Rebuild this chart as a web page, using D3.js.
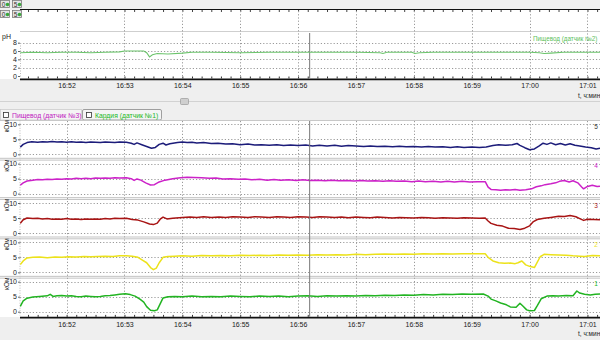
<!DOCTYPE html>
<html><head><meta charset="utf-8">
<script src="https://cdn.jsdelivr.net/npm/d3@7"></script>
<style>
body{margin:0;background:#efefef}
svg{display:block;font-family:"Liberation Sans",Arial,sans-serif}
</style>
</head><body>
<svg id="chart" width="600" height="340"></svg>
<script>
// ---- data ----------------------------------------------------------------
const minuteTicks = ["16:52","16:53","16:54","16:55","16:56","16:57","16:58","16:59","17:00","17:01"];
const timeSpan = ["16:51:12","17:01:13"];
const cursorTime = "16:56:12";
const phTicks = [0,2,4,6,8];
const kohmTicks = [0,5,10];
const channelNames = ["5","4","3","2","1"];
const channelColors = ["#1c1c7a","#cc22c8","#a81414","#ece21a","#22b422"];
const tabLabels = ["Пищевод (датчик №3)","Кардия (датчик №1)"];
const phLegend = "Пищевод (датчик №2)";

const phSeries = [
 ["16:51:12",5.6],["16:51:25",5.7],["16:51:40",5.6],["16:51:55",5.7],["16:52:10",5.7],["16:52:25",5.6],
 ["16:52:40",5.7],["16:52:55",5.8],["16:53:00",6.0],["16:53:10",6.0],["16:53:20",6.0],["16:53:23",5.6],
 ["16:53:26",4.6],["16:53:29",5.1],["16:53:34",5.4],["16:53:45",5.3],["16:54:00",5.5],["16:54:10",5.7],
 ["16:54:30",5.7],["16:55:00",5.6],["16:55:30",5.7],["16:56:00",5.7],["16:56:30",5.7],["16:57:00",5.7],
 ["16:57:25",5.6],["16:57:28",5.4],["16:57:32",5.7],["16:57:58",5.7],["16:58:01",5.4],["16:58:06",5.6],
 ["16:58:20",5.7],["16:59:00",5.7],["16:59:30",5.7],["17:00:00",5.7],["17:00:10",5.6],["17:00:15",5.4],
 ["17:00:22",5.5],["17:00:35",5.7],["17:01:00",5.7],["17:01:13",5.7]
];

const sensor5 = [
 ["16:51:12",2.4],["16:51:15",3.3],["16:51:19",3.9],["16:51:24",4.2],["16:51:30",4.0],["16:51:35",4.2],
 ["16:51:40",4.1],["16:51:45",4.3],["16:51:50",4.1],["16:51:55",4.2],["16:52:00",4.0],["16:52:05",4.2],
 ["16:52:10",4.0],["16:52:15",4.1],["16:52:20",3.9],["16:52:25",4.1],["16:52:30",4.0],["16:52:35",3.9],
 ["16:52:40",4.1],["16:52:45",4.0],["16:52:50",3.9],["16:52:55",4.1],["16:53:02",4.0],["16:53:07",3.7],
 ["16:53:10",3.3],["16:53:13",3.8],["16:53:18",3.2],["16:53:23",2.6],["16:53:28",2.0],["16:53:32",2.3],
 ["16:53:36",3.3],["16:53:40",3.7],["16:53:43",3.1],["16:53:47",3.5],["16:53:55",3.9],["16:54:00",4.1],
 ["16:54:05",3.9],["16:54:10",4.0],["16:54:15",3.8],["16:54:22",3.9],["16:54:30",3.6],["16:54:37",3.7],
 ["16:54:45",3.4],["16:54:52",3.5],["16:55:00",3.2],["16:55:08",3.4],["16:55:15",3.1],["16:55:22",3.2],
 ["16:55:30",3.0],["16:55:38",3.2],["16:55:45",2.9],["16:55:52",3.1],["16:56:00",2.9],["16:56:08",3.1],
 ["16:56:15",2.8],["16:56:22",3.0],["16:56:30",2.8],["16:56:38",3.0],["16:56:45",2.7],["16:56:52",2.9],
 ["16:57:00",2.8],["16:57:08",2.6],["16:57:15",2.8],["16:57:22",2.6],["16:57:30",2.7],["16:57:38",2.5],
 ["16:57:45",2.7],["16:57:52",2.5],["16:58:00",2.6],["16:58:08",2.4],["16:58:15",2.6],["16:58:22",2.4],
 ["16:58:30",2.5],["16:58:38",2.3],["16:58:45",2.5],["16:58:52",2.3],["16:59:00",2.4],["16:59:08",2.3],
 ["16:59:15",2.4],["16:59:22",2.9],["16:59:28",3.2],["16:59:35",3.0],["16:59:42",3.2],["16:59:47",3.6],
 ["16:59:50",3.0],["16:59:55",2.2],["17:00:00",1.5],["17:00:05",1.8],["17:00:10",2.8],["17:00:14",3.7],
 ["17:00:18",3.3],["17:00:22",3.8],["17:00:27",3.2],["17:00:32",3.6],["17:00:37",3.1],["17:00:42",3.5],
 ["17:00:47",3.0],["17:00:52",2.8],["17:00:58",2.4],["17:01:04",2.2],["17:01:09",1.8],["17:01:13",2.0]
];

const sensor4 = [
 ["16:51:12",2.8],["16:51:15",3.6],["16:51:19",4.2],["16:51:25",4.5],["16:51:30",4.7],["16:51:35",4.6],
 ["16:51:40",4.8],["16:51:45",4.7],["16:51:50",4.9],["16:51:55",4.8],["16:52:00",5.0],["16:52:05",4.9],
 ["16:52:10",5.1],["16:52:15",5.0],["16:52:20",5.1],["16:52:25",5.0],["16:52:30",5.2],["16:52:35",5.1],
 ["16:52:40",5.2],["16:52:45",5.1],["16:52:50",5.3],["16:52:55",5.2],["16:53:02",5.3],["16:53:07",5.0],
 ["16:53:10",4.4],["16:53:13",4.9],["16:53:17",4.5],["16:53:22",3.6],["16:53:27",2.9],["16:53:31",3.0],
 ["16:53:36",3.9],["16:53:42",4.5],["16:53:50",5.0],["16:53:58",5.3],["16:54:05",5.5],["16:54:12",5.4],
 ["16:54:20",5.3],["16:54:28",5.1],["16:54:35",5.2],["16:54:42",4.9],["16:54:50",5.0],["16:54:58",4.8],
 ["16:55:05",4.9],["16:55:12",4.6],["16:55:20",4.8],["16:55:28",4.5],["16:55:35",4.7],["16:55:42",4.5],
 ["16:55:50",4.6],["16:55:58",4.4],["16:56:05",4.6],["16:56:12",4.4],["16:56:20",4.5],["16:56:28",4.3],
 ["16:56:35",4.5],["16:56:42",4.3],["16:56:50",4.4],["16:56:58",4.2],["16:57:05",4.4],["16:57:12",4.2],
 ["16:57:20",4.3],["16:57:28",4.1],["16:57:35",4.3],["16:57:42",4.1],["16:57:50",4.2],["16:57:58",4.0],
 ["16:58:05",4.2],["16:58:12",4.0],["16:58:20",4.1],["16:58:28",3.9],["16:58:35",4.1],["16:58:42",3.9],
 ["16:58:50",4.1],["16:58:58",3.9],["16:59:06",4.0],["16:59:14",4.0],["16:59:17",2.2],["16:59:20",1.4],
 ["16:59:25",1.3],["16:59:30",1.1],["16:59:35",1.3],["16:59:40",1.2],["16:59:45",1.4],["16:59:50",1.1],
 ["16:59:56",1.3],["17:00:02",1.6],["17:00:07",2.3],["17:00:12",2.6],["17:00:16",3.0],["17:00:22",3.3],
 ["17:00:27",3.6],["17:00:31",4.1],["17:00:36",4.4],["17:00:41",3.9],["17:00:45",4.3],["17:00:50",3.6],
 ["17:00:54",2.2],["17:00:56",1.6],["17:01:00",2.4],["17:01:05",2.8],["17:01:10",2.4],["17:01:13",2.5]
];

const sensor3 = [
 ["16:51:12",3.2],["16:51:15",4.4],["16:51:19",5.0],["16:51:25",4.8],["16:51:30",4.9],["16:51:35",4.7],
 ["16:51:40",4.8],["16:51:45",4.6],["16:51:50",4.7],["16:51:55",4.6],["16:52:00",4.8],["16:52:05",4.6],
 ["16:52:10",4.7],["16:52:15",4.5],["16:52:20",4.7],["16:52:25",4.6],["16:52:30",4.7],["16:52:35",4.6],
 ["16:52:40",4.8],["16:52:45",4.7],["16:52:50",4.9],["16:52:55",4.8],["16:53:02",4.9],["16:53:08",4.5],
 ["16:53:14",4.3],["16:53:20",3.7],["16:53:26",3.0],["16:53:30",2.8],["16:53:34",3.3],["16:53:37",4.6],
 ["16:53:40",5.3],["16:53:44",4.7],["16:53:50",4.9],["16:54:00",5.2],["16:54:08",5.3],["16:54:15",5.2],
 ["16:54:22",5.4],["16:54:30",5.2],["16:54:38",5.3],["16:54:45",5.2],["16:54:52",5.4],["16:55:00",5.3],
 ["16:55:08",5.2],["16:55:15",5.4],["16:55:22",5.3],["16:55:30",5.2],["16:55:38",5.4],["16:55:45",5.3],
 ["16:55:52",5.2],["16:56:00",5.4],["16:56:08",5.3],["16:56:15",5.2],["16:56:22",5.4],["16:56:30",5.3],
 ["16:56:38",5.2],["16:56:45",5.3],["16:56:52",5.1],["16:57:00",5.3],["16:57:08",5.2],["16:57:15",5.1],
 ["16:57:22",5.3],["16:57:30",5.2],["16:57:38",5.0],["16:57:45",5.2],["16:57:52",5.1],["16:58:00",5.0],
 ["16:58:08",5.2],["16:58:15",5.1],["16:58:22",4.9],["16:58:30",5.1],["16:58:38",5.0],["16:58:45",4.9],
 ["16:58:52",5.1],["16:59:00",5.0],["16:59:08",4.9],["16:59:14",5.0],["16:59:17",4.0],["16:59:20",3.2],
 ["16:59:26",2.6],["16:59:32",2.3],["16:59:38",1.6],["16:59:44",1.5],["16:59:50",1.2],["16:59:55",1.6],
 ["17:00:00",2.4],["17:00:04",3.8],["17:00:08",4.5],["17:00:15",4.9],["17:00:22",5.2],["17:00:30",5.6],
 ["17:00:36",5.5],["17:00:42",5.8],["17:00:48",5.4],["17:00:52",4.8],["17:00:56",4.2],["17:01:00",4.6],
 ["17:01:06",4.5],["17:01:13",4.4]
];

const sensor2 = [
 ["16:51:12",2.6],["16:51:15",3.8],["16:51:19",4.8],["16:51:25",5.0],["16:51:32",5.1],["16:51:40",4.9],
 ["16:51:48",5.1],["16:51:55",5.0],["16:52:02",5.2],["16:52:10",5.1],["16:52:18",5.3],["16:52:25",5.2],
 ["16:52:32",5.3],["16:52:40",5.4],["16:52:48",5.3],["16:52:55",5.5],["16:53:02",5.5],["16:53:08",5.4],
 ["16:53:14",5.0],["16:53:19",4.0],["16:53:23",3.2],["16:53:27",1.6],["16:53:30",0.9],["16:53:33",1.4],
 ["16:53:36",3.2],["16:53:40",5.0],["16:53:45",5.3],["16:53:52",5.4],["16:54:00",5.5],["16:54:10",5.4],
 ["16:54:20",5.6],["16:54:30",5.5],["16:54:40",5.6],["16:54:50",5.5],["16:55:00",5.7],["16:55:10",5.6],
 ["16:55:20",5.7],["16:55:30",5.6],["16:55:40",5.8],["16:55:50",5.7],["16:56:00",5.8],["16:56:10",5.7],
 ["16:56:20",5.9],["16:56:30",5.8],["16:56:40",5.9],["16:56:50",5.8],["16:57:00",6.0],["16:57:10",5.9],
 ["16:57:20",6.0],["16:57:30",6.1],["16:57:40",6.0],["16:57:50",6.1],["16:58:00",6.0],["16:58:10",6.2],
 ["16:58:20",6.1],["16:58:30",6.2],["16:58:40",6.1],["16:58:50",6.2],["16:59:00",6.2],["16:59:14",6.2],
 ["16:59:17",5.0],["16:59:22",3.8],["16:59:28",3.2],["16:59:34",3.0],["16:59:40",3.1],["16:59:45",2.9],
 ["16:59:48",3.2],["16:59:52",3.8],["16:59:56",2.5],["17:00:00",2.0],["17:00:05",1.6],["17:00:08",3.4],
 ["17:00:11",5.2],["17:00:15",6.0],["17:00:22",5.9],["17:00:30",5.8],["17:00:38",5.7],["17:00:45",5.5],
 ["17:00:52",5.4],["17:00:57",5.3],["17:01:05",5.6],["17:01:13",5.5]
];

const sensor1 = [
 ["16:51:12",1.8],["16:51:15",3.6],["16:51:19",4.5],["16:51:25",4.9],["16:51:32",5.1],["16:51:40",5.3],
 ["16:51:43",5.8],["16:51:46",5.1],["16:51:50",5.3],["16:51:55",5.4],["16:52:00",5.2],["16:52:05",5.3],
 ["16:52:10",5.1],["16:52:15",5.0],["16:52:20",5.2],["16:52:25",5.1],["16:52:30",5.0],["16:52:35",5.1],
 ["16:52:40",5.3],["16:52:45",5.4],["16:52:50",5.6],["16:52:55",5.8],["16:53:01",6.0],["16:53:06",5.7],
 ["16:53:11",5.2],["16:53:16",4.2],["16:53:20",3.2],["16:53:23",1.7],["16:53:27",0.5],["16:53:31",0.3],
 ["16:53:34",0.6],["16:53:37",2.6],["16:53:40",4.6],["16:53:45",5.0],["16:53:52",5.1],["16:54:00",5.0],
 ["16:54:10",5.2],["16:54:20",5.0],["16:54:30",5.1],["16:54:40",5.0],["16:54:50",5.2],["16:55:00",5.1],
 ["16:55:10",5.0],["16:55:20",5.2],["16:55:30",5.1],["16:55:40",5.2],["16:55:50",5.0],["16:56:00",5.2],
 ["16:56:10",5.3],["16:56:20",5.1],["16:56:30",5.3],["16:56:40",5.2],["16:56:50",5.3],["16:57:00",5.2],
 ["16:57:10",5.4],["16:57:20",5.3],["16:57:30",5.5],["16:57:40",5.4],["16:57:50",5.6],["16:58:00",5.5],
 ["16:58:10",5.7],["16:58:20",5.6],["16:58:30",5.8],["16:58:40",5.7],["16:58:50",5.9],["16:59:00",5.8],
 ["16:59:12",5.9],["16:59:17",5.2],["16:59:20",4.2],["16:59:25",3.6],["16:59:30",2.9],["16:59:36",2.3],
 ["16:59:40",1.6],["16:59:46",1.5],["16:59:50",2.8],["16:59:53",1.9],["16:59:57",0.6],["17:00:00",0.3],
 ["17:00:05",0.4],["17:00:08",2.0],["17:00:12",4.3],["17:00:18",5.2],["17:00:24",5.3],["17:00:30",5.2],
 ["17:00:38",5.4],["17:00:45",5.3],["17:00:49",6.9],["17:00:52",6.2],["17:00:57",5.8],["17:01:03",5.6],
 ["17:01:08",5.8],["17:01:13",5.9]
];

const channels = [sensor5, sensor4, sensor3, sensor2, sensor1];

// ---- layout --------------------------------------------------------------
const svg = d3.select("#chart");
const parse = d3.timeParse("%H:%M:%S");
const parseHM = d3.timeParse("%H:%M");
const fmt = d3.timeFormat("%H:%M");
const left = 20, right = 600;

const x = d3.scaleTime().domain(timeSpan.map(parse)).range([20.3, right]);
const minuteDates = minuteTicks.map(parseHM);
const tenSec = x.ticks(d3.timeSecond.every(10));

const grid = "#9a9a9a";

// white backgrounds of the two chart areas
svg.append("rect").attr("x",0).attr("y",10).attr("width",600).attr("height",69).attr("fill","#fff");
svg.append("rect").attr("x",0).attr("y",120).attr("width",600).attr("height",197).attr("fill","#fff");

// upper strip: edge of the chart above
svg.append("line").attr("x1",left).attr("x2",right).attr("y1",9.5).attr("y2",9.5).attr("stroke","#111").attr("stroke-width",1.2);
svg.append("g").attr("transform","translate(0,10)")
  .call(d3.axisBottom(x).ticks(d3.timeSecond.every(10)).tickSize(2).tickFormat(""))
  .call(g => { g.select(".domain").remove(); g.selectAll("line").attr("stroke","#444"); });

// toolbar buttons
function button(g, bx, by, label){
  g.append("rect").attr("x",bx+0.5).attr("y",by+0.5).attr("width",9).attr("height",7).attr("fill","#e4e4e4").attr("stroke","#7a7a7a").attr("stroke-width",0.8);
  g.append("text").attr("x",bx+3.5).attr("y",by+6.5).attr("font-size",6.5).attr("text-anchor","middle").attr("fill","#333").text(label);
  g.append("circle").attr("cx",bx+7.5).attr("cy",by+4.5).attr("r",1.8).attr("fill","#3aa63a");
}
const tb = svg.append("g");
[[0,0,"0"],[12,0,"5"],[0,10,"0"],[12,10,"5"]].forEach(d => button(tb, d[0], d[1], d[2]));

// ---- pH chart ------------------------------------------------------------
const yPh = d3.scaleLinear().domain([0,8]).range([76,42.7]);
const ph = svg.append("g");

ph.append("line").attr("x1",left).attr("x2",right).attr("y1",31.5).attr("y2",31.5).attr("stroke","#cfcfcf");
ph.selectAll(".hg").data(phTicks.filter(d => d > 0)).join("line")
  .attr("x1",left).attr("x2",right).attr("y1",d => Math.round(yPh(d))+0.5).attr("y2",d => Math.round(yPh(d))+0.5)
  .attr("stroke",grid).attr("stroke-dasharray","1.2,2");
ph.selectAll(".vg").data(minuteDates).join("line")
  .attr("x1",d => Math.round(x(d))+0.5).attr("x2",d => Math.round(x(d))+0.5).attr("y1",11).attr("y2",78)
  .attr("stroke",grid).attr("stroke-dasharray","1.2,2");

ph.append("g").attr("transform",`translate(${left},0)`)
  .call(d3.axisLeft(yPh).tickValues(phTicks).tickSize(2).tickPadding(1).tickFormat(d3.format("d")))
  .call(g => { g.select(".domain").attr("stroke","#bbb").attr("stroke-dasharray","1,1.5");
               g.selectAll("line").attr("stroke","#666");
               g.selectAll("text").attr("font-size",7).attr("fill","#222"); });
ph.append("text").attr("x",2).attr("y",39).attr("font-size",7).attr("fill","#222").text("pH");

ph.append("line").attr("x1",x(parse(cursorTime))).attr("x2",x(parse(cursorTime))).attr("y1",33).attr("y2",78)
  .attr("stroke","#777").attr("stroke-width",1);

ph.append("path").datum(phSeries)
  .attr("d", d3.line().x(d => x(parse(d[0]))).y(d => yPh(d[1])))
  .attr("fill","none").attr("stroke","#6cc46c").attr("stroke-width",1.1);

ph.append("text").attr("x",533).attr("y",41).attr("font-size",6.3).attr("fill","#5cbf5c").text(phLegend);

// time axis under the pH chart
function timeAxis(y0, labelY){
  const g = svg.append("g");
  g.append("line").attr("x1",left).attr("x2",right).attr("y1",y0).attr("y2",y0).attr("stroke","#111").attr("stroke-width",1.8);
  g.append("g").attr("transform",`translate(0,${y0-0.8})`)
    .call(d3.axisTop(x).ticks(d3.timeSecond.every(10)).tickSize(2).tickFormat(""))
    .call(a => { a.select(".domain").remove(); a.selectAll("line").attr("stroke","#333"); });
  g.append("g").attr("transform",`translate(0,${y0})`)
    .call(d3.axisBottom(x).tickValues(minuteDates).tickSize(0).tickPadding(4).tickFormat(fmt))
    .call(a => { a.select(".domain").remove(); a.selectAll("text").attr("font-size",7).attr("fill","#222"); });
  g.append("text").attr("x",578).attr("y",labelY).attr("font-size",6.5).attr("fill","#222").text("t, ч:мин");
}
timeAxis(79.3, 98);

// splitter between the two charts
svg.append("line").attr("x1",0).attr("x2",600).attr("y1",101.5).attr("y2",101.5).attr("stroke","#d2d2d2");
svg.append("rect").attr("x",180.5).attr("y",98.5).attr("width",8).attr("height",6).attr("rx",1)
  .attr("fill","#cfcfcf").attr("stroke","#9a9a9a").attr("stroke-width",0.7);

// tabs
const tabs = svg.append("g");
tabs.append("rect").attr("x",0.5).attr("y",109.5).attr("width",81).attr("height",10.5).attr("fill","#f4f4f4").attr("stroke","#c8c8c8").attr("stroke-width",0.7);
tabs.append("rect").attr("x",82.5).attr("y",109.5).attr("width",79).attr("height",10.5).attr("rx",1.5).attr("fill","#f4f4f4").attr("stroke","#8a8a8a").attr("stroke-width",0.8);
[[3,tabLabels[0],"#c020c0"],[86,tabLabels[1],"#22b822"]].forEach(d => {
  tabs.append("rect").attr("x",d[0]+0.5).attr("y",112.5).attr("width",5).attr("height",5).attr("fill","#fff").attr("stroke","#333").attr("stroke-width",0.8);
  tabs.append("text").attr("x",d[0]+9).attr("y",118).attr("font-size",6.8).attr("fill",d[2]).text(d[1]);
});
svg.append("line").attr("x1",0).attr("x2",600).attr("y1",120.5).attr("y2",120.5).attr("stroke","#c8c8c8");

// ---- resistance charts ---------------------------------------------------
const pitch = 39.35, zero0 = 154.3, pxPerUnit = 3.0;
const cursorX = x(parse(cursorTime));

svg.append("g").selectAll("line").data(minuteDates).join("line")
  .attr("x1",d => Math.round(x(d))+0.5).attr("x2",d => Math.round(x(d))+0.5).attr("y1",121).attr("y2",316.5)
  .attr("stroke",grid).attr("stroke-dasharray","1.2,2");

channels.forEach((series, i) => {
  const z = zero0 + i*pitch;
  const y = d3.scaleLinear().domain([0,10]).range([z, z - 10*pxPerUnit]);
  const g = svg.append("g");
  const top = z - 34, bottom = z + 3.9;

  g.selectAll(".hg").data(kohmTicks).join("line")
    .attr("x1",left).attr("x2",right).attr("y1",d => Math.round(y(d))+0.5).attr("y2",d => Math.round(y(d))+0.5)
    .attr("stroke",grid).attr("stroke-dasharray","1.2,2");

  if (i < channels.length - 1) {
    [z+4, z+5.8].forEach(yy => g.append("line").attr("x1",0).attr("x2",600).attr("y1",yy).attr("y2",yy).attr("stroke","#b4b4b4").attr("stroke-width",0.8));
  }

  g.append("g").attr("transform",`translate(${left},0)`)
    .call(d3.axisLeft(y).tickValues(kohmTicks).tickSize(2).tickPadding(1).tickFormat(d3.format("d")))
    .call(a => { a.select(".domain").attr("d",`M0,${top}V${bottom}`).attr("stroke","#bbb").attr("stroke-dasharray","1,1.5");
                 a.selectAll("line").attr("stroke","#666");
                 a.selectAll("text").attr("font-size",7).attr("fill","#222"); });

  g.append("text").attr("transform",`translate(8.5,${z-28}) rotate(-90)`).attr("text-anchor","middle")
    .attr("font-size",6.5).attr("fill","#222").text("кОм");

  g.append("text").attr("x",596).attr("y",z-25.5).attr("font-size",6.5).attr("text-anchor","middle")
    .attr("fill", i === 0 ? "#333" : channelColors[i]).text(channelNames[i]);

  const clipId = "clip" + i;
  svg.append("clipPath").attr("id",clipId).append("rect")
    .attr("x",left).attr("y",top).attr("width",right-left).attr("height",bottom-top);

  g.append("path").datum(series).attr("clip-path",`url(#${clipId})`)
    .attr("d", d3.line().x(d => x(parse(d[0]))).y(d => y(d[1])))
    .attr("fill","none").attr("stroke",channelColors[i]).attr("stroke-width",1.5).attr("stroke-linejoin","round");
});

svg.append("line").attr("x1",cursorX).attr("x2",cursorX).attr("y1",121).attr("y2",316.5)
  .attr("stroke","#777").attr("stroke-width",1);

timeAxis(317.7, 335.5);
</script>
</body></html>
